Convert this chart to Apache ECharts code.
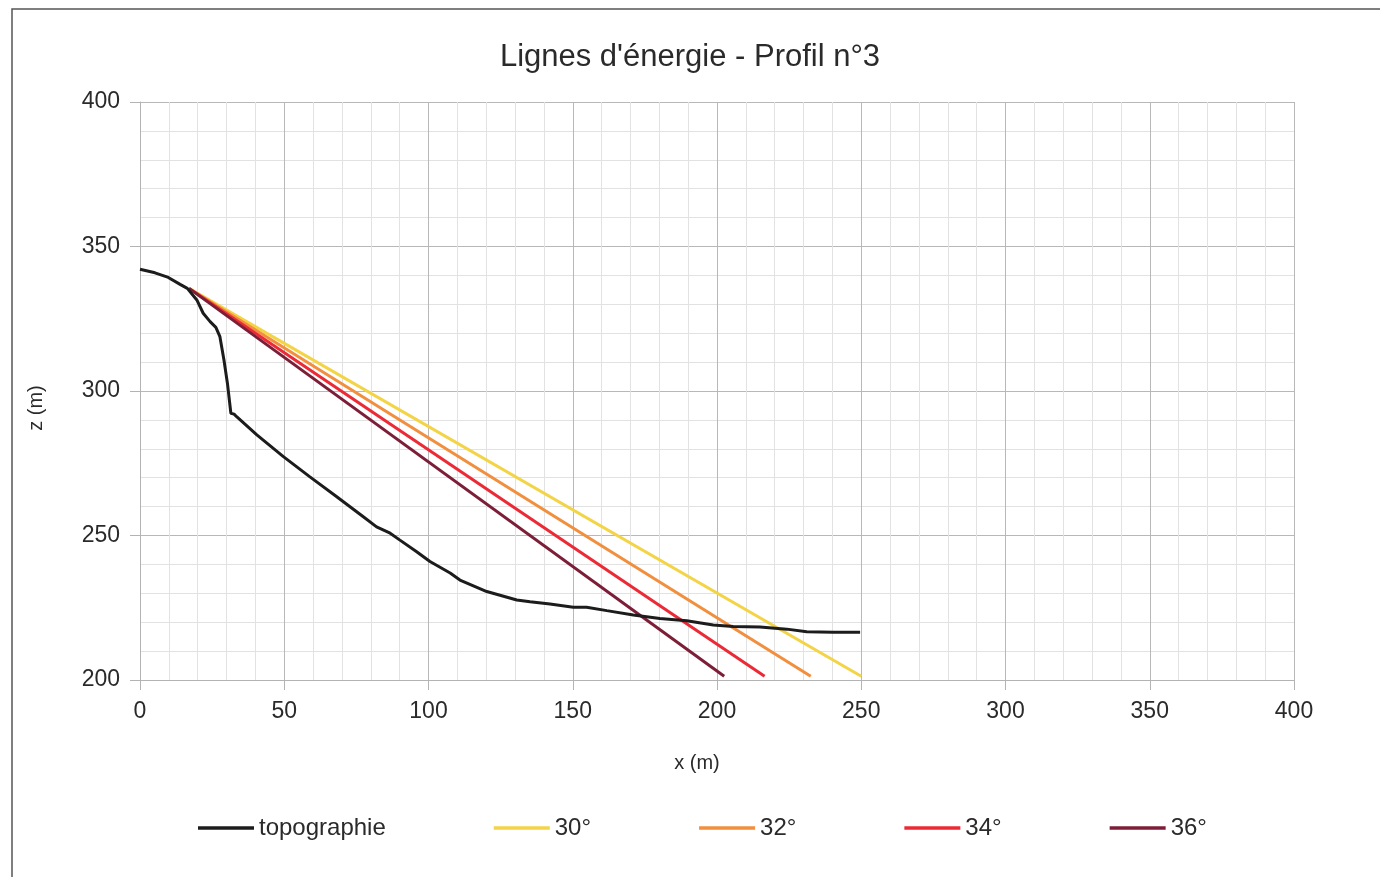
<!DOCTYPE html>
<html>
<head>
<meta charset="utf-8">
<script src="https://cdn.jsdelivr.net/npm/echarts@6/dist/echarts.min.js"></script>
<style>
html,body{margin:0;padding:0;background:#fff;}
#chart{width:1380px;height:877px;}
</style>
</head>
<body>
<div id="chart"></div>
<script>
// Topography profile (x in m, z in m)
const topoX = [0, 5.2, 9.8, 13.9, 16.4, 19.7, 21.9, 24.3, 26.3, 27.7, 29.1, 30.3, 31.5, 32.6, 33.5, 40.5, 49.7, 58.9, 68.2, 77.4, 82.0, 86.7, 90.1, 95.9, 100.5, 107.5, 110.9, 120.2, 130.6, 135.2, 142.1, 150.2, 154.8, 161.8, 171.0, 180.2, 189.5, 198.7, 205.6, 214.9, 224.2, 231.1, 240.3, 249.6];
const topoZ = [342.1, 340.9, 339.3, 336.9, 335.5, 331.5, 326.9, 324.0, 322.0, 318.8, 310.7, 302.7, 292.3, 292.0, 291.1, 284.8, 277.3, 270.3, 263.4, 256.5, 253.0, 250.8, 248.4, 244.4, 241.0, 237.0, 234.6, 230.6, 227.7, 227.1, 226.3, 225.2, 225.2, 224.0, 222.5, 221.3, 220.5, 219.0, 218.5, 218.3, 217.6, 216.7, 216.5, 216.5];
// Energy lines: [start point, end point]
const line30 = [[17, 335.5], [250, 201.3]];
const line32 = [[17, 335.5], [232.5, 201.3]];
const line34 = [[17, 335.5], [216.5, 201.3]];
const line36 = [[17, 335.5], [202.5, 201.3]];
const seriesNames = ['topographie', '30°', '32°', '34°', '36°'];
const seriesColors = ['#1c1c1c', '#f3d446', '#f28f3e', '#ec2a36', '#7c1e38'];
const xTicks = [0, 50, 100, 150, 200, 250, 300, 350, 400];
const yTicks = [200, 250, 300, 350, 400];

const topo = topoX.map((x, i) => [x, topoZ[i]]);
const datasets = [topo, line30, line32, line34, line36];

const chart = echarts.init(document.getElementById('chart'));
const font = 'Liberation Sans, Arial, sans-serif';
const axisCommon = {
  type: 'value',
  interval: 50,
  axisLine: { show: true, lineStyle: { color: '#b3b3b3', width: 1 } },
  axisTick: { show: true, inside: false, length: 10, lineStyle: { color: '#b3b3b3' } },
  splitLine: { show: true, lineStyle: { color: '#b8b8b8', width: 1 } },
  minorTick: { show: false, splitNumber: 5 },
  minorSplitLine: { show: true, lineStyle: { color: '#e2e2e2', width: 1 } },
  axisLabel: { color: '#2a2a2a', fontSize: 23, fontFamily: font },
  nameTextStyle: { color: '#2a2a2a', fontSize: 20, fontFamily: font }
};

chart.setOption({
  backgroundColor: '#ffffff',
  animation: false,
  title: {
    text: "Lignes d'énergie - Profil n°3",
    left: 'center',
    top: 37,
    textStyle: { color: '#2a2a2a', fontSize: 31, fontWeight: 'normal', fontFamily: font }
  },
  graphic: [{
    type: 'rect',
    shape: { x: 12, y: 9, width: 1500, height: 1000 },
    style: { fill: 'none', stroke: '#555', lineWidth: 1.5 },
    silent: true
  }],
  grid: { left: 140, right: 86, top: 102, bottom: 197, containLabel: false },
  legend: {
    left: 193,
    top: 811,
    itemWidth: 56,
    itemHeight: 14,
    itemGap: 108,
    textStyle: { color: '#2a2a2a', fontSize: 24, fontFamily: font },
    data: seriesNames.map((n, i) => ({ name: n, itemStyle: { color: seriesColors[i] }, icon: 'path://M0,5.5 L56,5.5 L56,9 L0,9 Z' }))
  },
  xAxis: Object.assign({}, axisCommon, {
    min: xTicks[0], max: xTicks[xTicks.length - 1],
    name: 'x (m)', nameLocation: 'middle', nameGap: 73,
    nameTextStyle: Object.assign({}, axisCommon.nameTextStyle, { padding: [0, 40, 0, 0] }),
    axisLabel: Object.assign({}, axisCommon.axisLabel, { margin: 20 })
  }),
  yAxis: Object.assign({}, axisCommon, {
    min: yTicks[0], max: yTicks[yTicks.length - 1],
    name: 'z (m)', nameLocation: 'middle', nameGap: 94,
    nameTextStyle: Object.assign({}, axisCommon.nameTextStyle, { padding: [0, 34, 0, 0] }),
    axisLabel: Object.assign({}, axisCommon.axisLabel, { margin: 20 })
  }),
  series: datasets.map((d, i) => ({
    name: seriesNames[i],
    type: 'line',
    data: d,
    showSymbol: false,
    symbol: 'none',
    smooth: false,
    lineStyle: { color: seriesColors[i], width: 3 },
    itemStyle: { color: seriesColors[i] },
    z: i === 0 ? 3 : 2
  }))
});
</script>
</body>
</html>
